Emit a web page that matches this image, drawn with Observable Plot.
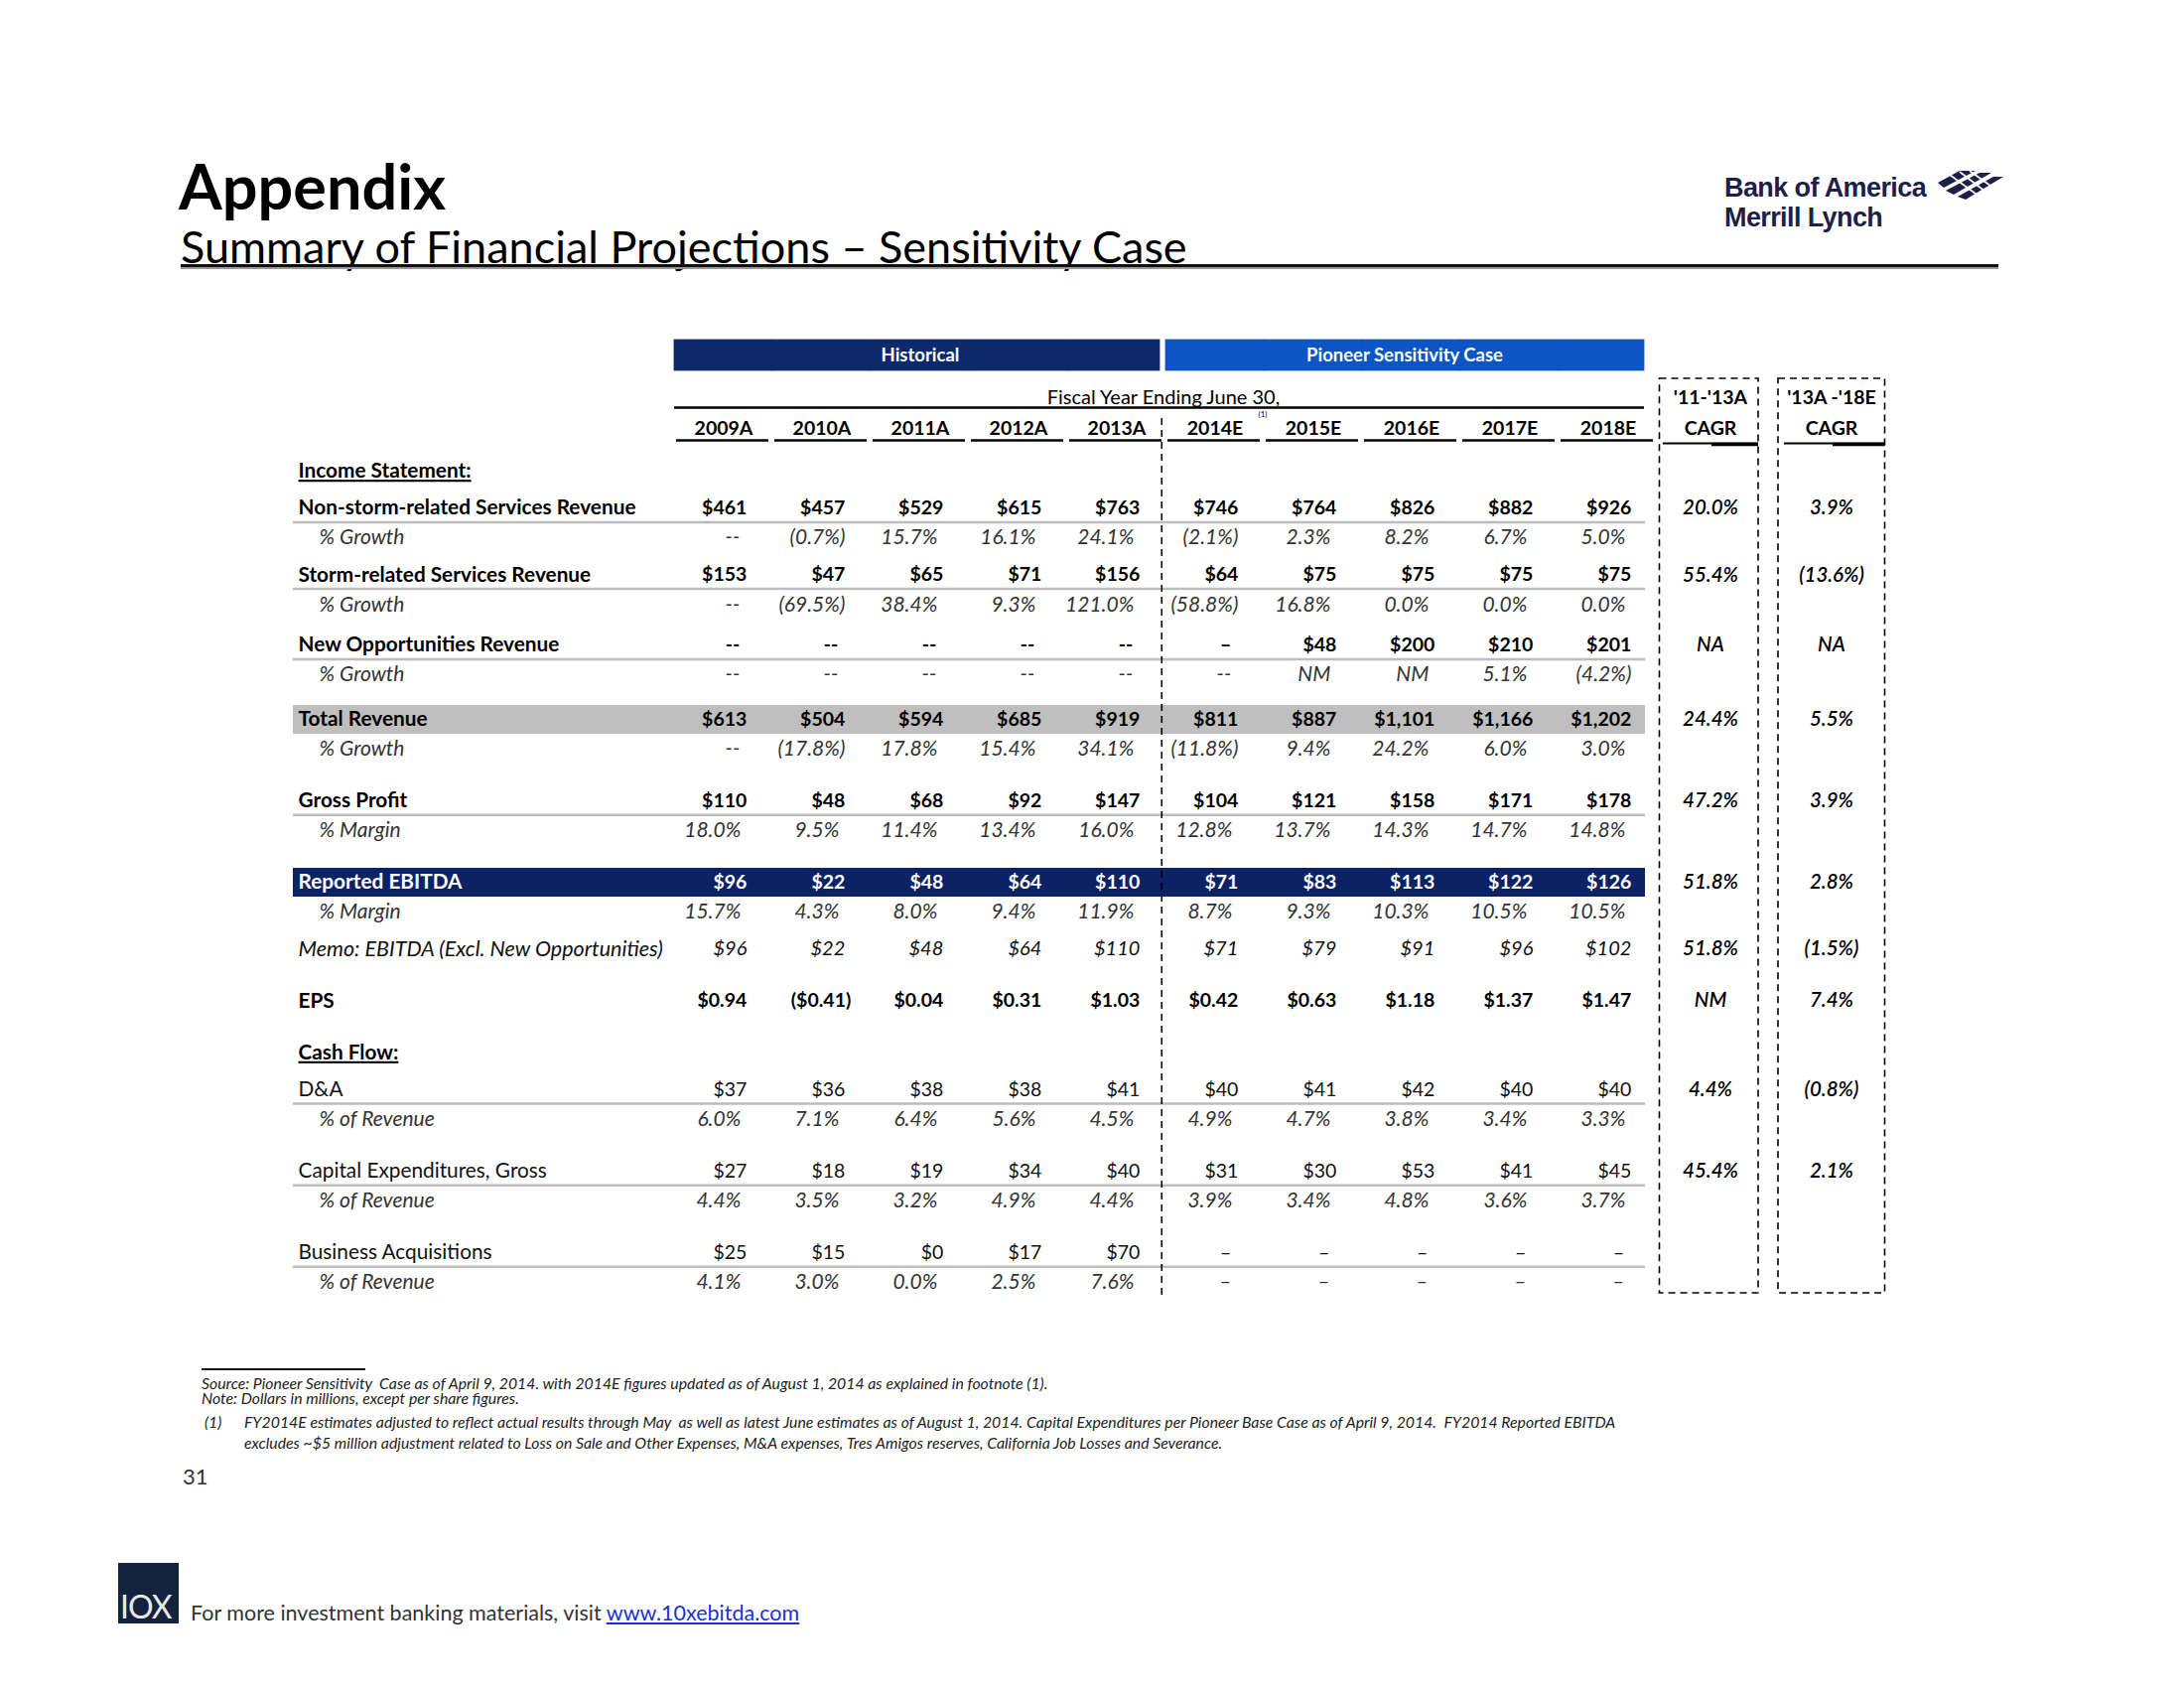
<!DOCTYPE html>
<html><head><meta charset="utf-8">
<script src="https://cdn.jsdelivr.net/npm/d3@7"></script>
<script src="https://cdn.jsdelivr.net/npm/@observablehq/plot@0.6"></script>
<style>
body{margin:0;background:#fff;}
#page{position:relative;width:2200px;height:1700px;font-family:Lato,'Open Sans',sans-serif;color:#000;overflow:hidden;background:#fff}
.abs{position:absolute;white-space:nowrap;line-height:1}
#chart{position:absolute;left:0;top:300px}
.fn{position:absolute;white-space:nowrap;font-style:italic;font-size:15.8px;color:#222;line-height:1}
</style></head><body><div id="page">
<div class="abs" style="left:180px;top:155px;font-size:63px;font-weight:bold;">Appendix</div>
<div class="abs" style="left:182px;top:226px;font-size:45px;">Summary of Financial Projections – Sensitivity Case</div>
<div class="abs" style="left:182px;top:266px;width:1831px;height:3px;background:#111"></div>
<div class="abs" style="left:182px;top:269px;width:1831px;height:2px;background:#999"></div>
<div class="abs" style="left:1737px;top:176px;font-family:'Liberation Sans',Arial,sans-serif;font-weight:bold;font-size:27px;color:#1c1f4a;letter-spacing:-0.6px">Bank of America</div>
<div class="abs" style="left:1737px;top:206px;font-family:'Liberation Sans',Arial,sans-serif;font-weight:bold;font-size:27px;color:#1c1f4a;letter-spacing:-0.6px">Merrill Lynch</div>
<svg class="abs" style="left:1950px;top:170px" width="70" height="32" viewBox="0 0 70 32">
<g fill="#1c1f4a"><polygon points="2,14 24,2 40,2 8,19"/><polygon points="10,22 44,4 56,4 18,26"/><polygon points="22,28 58,8 68,8 30,31"/></g>
<g stroke="#fff" stroke-width="1.6"><line x1="14" y1="6" x2="44" y2="28"/><line x1="24" y1="3" x2="54" y2="26"/><line x1="34" y1="2" x2="62" y2="22"/></g>
</svg>
<div id="chart"></div>
<div class="abs" style="left:203px;top:1378px;width:165px;height:2px;background:#111"></div>
<div class="fn" style="left:203px;top:1385px">Source: Pioneer Sensitivity&nbsp; Case as of April 9, 2014. with 2014E figures updated as of August 1, 2014 as explained in footnote (1).</div>
<div class="fn" style="left:203px;top:1400px">Note: Dollars in millions, except per share figures.</div>
<div class="fn" style="left:206px;top:1424px">(1)</div>
<div class="fn" style="left:246px;top:1424px">FY2014E estimates adjusted to reflect actual results through May&nbsp; as well as latest June estimates as of August 1, 2014. Capital Expenditures per Pioneer Base Case as of April 9, 2014.&nbsp; FY2014 Reported EBITDA</div>
<div class="fn" style="left:246px;top:1445px">excludes ~$5 million adjustment related to Loss on Sale and Other Expenses, M&amp;A expenses, Tres Amigos reserves, California Job Losses and Severance.</div>
<div class="abs" style="left:184px;top:1476px;font-size:22px;color:#333">31</div>
<div class="abs" style="left:119px;top:1574px;width:61px;height:61px;background:#13233f"></div>
<div class="abs" style="left:121px;top:1602px;font-size:32px;color:#e8e8e8;letter-spacing:-1px">IOX</div>
<div class="abs" style="left:192px;top:1614px;font-size:21.5px;color:#333">For more investment banking materials, visit <span style="color:#1a32d6;text-decoration:underline">www.10xebitda.com</span></div>
</div>
<script>
// ---------------- data ----------------
const years = ["2009A","2010A","2011A","2012A","2013A","2014E","2015E","2016E","2017E","2018E"];
const historicalYears = years.slice(0, 5);
const projectedYears = years.slice(5);
const bannerLabels = ["Historical", "Pioneer Sensitivity Case"];
const fiscalLabel = "Fiscal Year Ending June 30,";
const cagrKeys = ["c1113", "c1318"];
const cagrHeaders = ["'11-'13A", "'13A -'18E"];

const rowKeys = ["incomeHdr","nonStorm","nonStormG","storm","stormG","newOpp","newOppG","total","totalG","gross","grossM","ebitda","ebitdaM","memo","eps","cashHdr","da","daPct","capex","capexPct","acq","acqPct"];
const rowLabels = ["Income Statement:","Non-storm-related Services Revenue","% Growth","Storm-related Services Revenue","% Growth","New Opportunities Revenue","% Growth","Total Revenue","% Growth","Gross Profit","% Margin","Reported EBITDA","% Margin","Memo: EBITDA (Excl. New Opportunities)","EPS","Cash Flow:","D&A","% of Revenue","Capital Expenditures, Gross","% of Revenue","Business Acquisitions","% of Revenue"];

const nonStormRevenue = [461,457,529,615,763,746,764,826,882,926];
const nonStormGrowth  = [null,-0.7,15.7,16.1,24.1,-2.1,2.3,8.2,6.7,5.0];
const stormRevenue    = [153,47,65,71,156,64,75,75,75,75];
const stormGrowth     = [null,-69.5,38.4,9.3,121.0,-58.8,16.8,0.0,0.0,0.0];
const newOppRevenue   = [null,null,null,null,null,"–",48,200,210,201];
const newOppGrowth    = [null,null,null,null,null,null,"NM","NM",5.1,-4.2];
const totalRevenue    = [613,504,594,685,919,811,887,1101,1166,1202];
const totalGrowth     = [null,-17.8,17.8,15.4,34.1,-11.8,9.4,24.2,6.0,3.0];
const grossProfit     = [110,48,68,92,147,104,121,158,171,178];
const grossMargin     = [18.0,9.5,11.4,13.4,16.0,12.8,13.7,14.3,14.7,14.8];
const reportedEbitda  = [96,22,48,64,110,71,83,113,122,126];
const ebitdaMargin    = [15.7,4.3,8.0,9.4,11.9,8.7,9.3,10.3,10.5,10.5];
const memoEbitda      = [96,22,48,64,110,71,79,91,96,102];
const eps             = [0.94,-0.41,0.04,0.31,1.03,0.42,0.63,1.18,1.37,1.47];
const depreciation    = [37,36,38,38,41,40,41,42,40,40];
const depreciationPct = [6.0,7.1,6.4,5.6,4.5,4.9,4.7,3.8,3.4,3.3];
const capex           = [27,18,19,34,40,31,30,53,41,45];
const capexPct        = [4.4,3.5,3.2,4.9,4.4,3.9,3.4,4.8,3.6,3.7];
const acquisitions    = [25,15,0,17,70,"–","–","–","–","–"];
const acquisitionsPct = [4.1,3.0,0.0,2.5,7.6,"–","–","–","–","–"];

const cagrRows = ["nonStorm","storm","newOpp","total","gross","ebitda","memo","eps","da","capex"];
const cagr1113 = [20.0,55.4,"NA",24.4,47.2,51.8,51.8,"NM",4.4,45.4];
const cagr1318 = [3.9,-13.6,"NA",5.5,3.9,2.8,-1.5,7.4,-0.8,2.1];

// ---------------- layout (scales / styling) ----------------
const FONT = "Lato, 'Open Sans', sans-serif";
const U = 7.46;                    // px per row unit
const rowGapUnits = [0,5,4,5,4,5.5,4,6,4,7,4,7,4,5,7,7,5,4,7,4,7,4];
const rowPos = {}; { let acc = 0; rowKeys.forEach((k, i) => { acc += rowGapUnits[i]; rowPos[k] = acc; }); }
const H = {barTop: -17.69, barBot: -13.54, barText: -15.6, fiscal: -9.92, fiscalRule: -8.58, years: -5.76, yearRule: -4.16,
           boxTop: -12.47, boxBot: 111.0, divTop: -7.1, divBot: 111.4, note: -7.6, cagrRule: -3.75};
const X0 = 675.7, BW = 99.47;
const VAL_DX = BW / 2 - 26.4;
const sepRows = ["nonStorm","storm","newOpp","gross","da","capex","acq"];
const sectionLabels = ["Income Statement:", "Cash Flow:"];

const rowValues = {nonStorm: nonStormRevenue, nonStormG: nonStormGrowth, storm: stormRevenue, stormG: stormGrowth,
  newOpp: newOppRevenue, newOppG: newOppGrowth, total: totalRevenue, totalG: totalGrowth, gross: grossProfit,
  grossM: grossMargin, ebitda: reportedEbitda, ebitdaM: ebitdaMargin, memo: memoEbitda, eps: eps, da: depreciation,
  daPct: depreciationPct, capex: capex, capexPct: capexPct, acq: acquisitions, acqPct: acquisitionsPct};
const rowFormat = k => k === "eps" ? "eps" : /(G|M|Pct)$/.test(k) ? "pct" : "money";
const rowStyleMap = {incomeHdr:"section", cashHdr:"section", nonStorm:"bold", storm:"bold", newOpp:"bold", total:"bold",
  gross:"bold", eps:"bold", ebitda:"inverse", memo:"memo", da:"plain", capex:"plain", acq:"plain"};
const styleOf = k => rowStyleMap[k] || "pct";
const styleOpts = {
  section: {fontWeight: "bold", fill: "#000", fontSize: 20.8},
  bold: {fontWeight: "bold", fill: "#000", fontSize: 20.8},
  inverse: {fontWeight: "bold", fill: "#fff", fontSize: 20.8},
  pct: {fontStyle: "italic", fill: "#333", fontSize: 21},
  memo: {fontStyle: "italic", fill: "#111", fontSize: 21.5},
  plain: {fill: "#111", fontSize: 20.8}
};
const valueSize = {section: 19.5, bold: 19.5, inverse: 19.5, pct: 21, memo: 20, plain: 19.5};
const clsOffset = {money: 0, parenMoney: 6, pct: -6, parenPct: 0, dash: -7, nm: -6};

function fmt(v, kind) {
  if (v === null) return {text: "--", cls: "dash"};
  if (typeof v === "string") return {text: v, cls: v === "NM" ? "nm" : "dash"};
  if (kind === "money") return v < 0 ? {text: "($" + d3.format(",")(-v) + ")", cls: "parenMoney"} : {text: "$" + d3.format(",")(v), cls: "money"};
  if (kind === "eps") return v < 0 ? {text: "($" + (-v).toFixed(2) + ")", cls: "parenMoney"} : {text: "$" + v.toFixed(2), cls: "money"};
  return v < 0 ? {text: "(" + (-v).toFixed(1) + "%)", cls: "parenPct"} : {text: v.toFixed(1) + "%", cls: "pct"};
}
const fmtCagr = v => typeof v === "string" ? v : v < 0 ? "(" + (-v).toFixed(1) + "%)" : v.toFixed(1) + "%";

const cells = Object.entries(rowValues).flatMap(([k, vals]) => vals.map((v, i) => ({row: k, col: years[i], ...fmt(v, rowFormat(k))})));
const cagrCells = cagrRows.flatMap((k, i) => [
  {row: k, col: cagrKeys[0], text: fmtCagr(cagr1113[i])},
  {row: k, col: cagrKeys[1], text: fmtCagr(cagr1318[i])}
]);

const yOf = k => rowPos[k];
const base = {fontFamily: FONT, fontSize: 19.5};
const marks = [];

// highlighted row bands
marks.push(Plot.ruleY(["total"], {y: yOf, stroke: "#bfbfbf", strokeWidth: 29}));
marks.push(Plot.ruleY(["ebitda"], {y: yOf, stroke: "#0b2265", strokeWidth: 29}));
// separators
marks.push(Plot.ruleY(sepRows, {y: k => rowPos[k] + 1.9, stroke: "#bdbdbd", strokeWidth: 2.5}));

// banners
const bar = (cols, fill, opts = {}) => Plot.barY(cols, {x: d => d, y1: () => H.barTop, y2: () => H.barBot, fill, stroke: fill, strokeWidth: 0.8, ...opts});
marks.push(bar(historicalYears.slice(0, 4), "#0c2a6b"));
marks.push(bar(historicalYears.slice(4), "#0c2a6b", {insetRight: 6}));
marks.push(bar(projectedYears.slice(0, 4), "#0b55c4"));
marks.push(bar(projectedYears.slice(4), "#0b55c4", {insetRight: 13}));
marks.push(Plot.text([bannerLabels[0]], {x: () => "2011A", y: () => H.barText, text: d => d, fill: "#fff", fontWeight: "bold", fontFamily: FONT, fontSize: 18.5}));
marks.push(Plot.text([bannerLabels[1]], {x: () => "2016E", y: () => H.barText, text: d => d, dx: -7, fill: "#fff", fontWeight: "bold", fontFamily: FONT, fontSize: 18.5}));

// fiscal year label + rule
marks.push(Plot.text([fiscalLabel], {x: () => "2013A", y: () => H.fiscal, text: d => d, dx: 47, ...base, fontSize: 20}));
marks.push(Plot.tickY(years.slice(0, 9), {x: d => d, y: () => H.fiscalRule, strokeWidth: 2.5, stroke: "#000"}));
marks.push(Plot.tickY(years.slice(9), {x: d => d, y: () => H.fiscalRule, strokeWidth: 2.5, stroke: "#000", insetRight: 13}));
// year headers
marks.push(Plot.text(years, {x: d => d, y: () => H.years, text: d => d, fontWeight: "bold", ...base}));
marks.push(Plot.text(["(1)"], {x: () => "2014E", y: () => H.note, text: d => d, dx: 48, fontFamily: FONT, fontSize: 8}));
marks.push(Plot.tickY(years, {x: d => d, y: () => H.yearRule, strokeWidth: 2.5, stroke: "#000", insetLeft: 2, insetRight: 4}));

// vertical dashed divider
marks.push(Plot.ruleX(["2014E"], {x: d => d, y1: () => H.divTop, y2: () => H.divBot, dx: -BW / 2 - 4, stroke: "#000", strokeWidth: 1.6, strokeDasharray: "7,5"}));

// CAGR boxes and headers
const cagrShift = [0, 23];
cagrKeys.forEach((c, i) => {
  marks.push(Plot.barY([c], {x: d => d, y1: () => H.boxTop, y2: () => H.boxBot, fill: "none", stroke: "#000", strokeWidth: 1.6, strokeDasharray: "7,5",
    dx: cagrShift[i], insetLeft: i ? 0 : 2.5, insetRight: i ? -8.5 : -3}));
  marks.push(Plot.text([cagrHeaders[i]], {x: () => c, y: () => H.fiscal, text: d => d, dx: cagrShift[i] + 4, fontWeight: "bold", ...base}));
  marks.push(Plot.text(["CAGR"], {x: () => c, y: () => H.years, text: d => d, dx: cagrShift[i] + 4, fontWeight: "bold", ...base}));
  marks.push(Plot.tickY([c], {x: d => d, y: () => H.cagrRule, dx: cagrShift[i], stroke: "#000", strokeWidth: 2, insetLeft: 6, insetRight: i ? -8.5 : -3}));
  marks.push(Plot.tickY([c], {x: d => d, y: () => H.cagrRule, dx: cagrShift[i], dy: 1, stroke: "#000", strokeWidth: 3.5, insetLeft: 55, insetRight: i ? -8.5 : -3}));
  marks.push(Plot.text(cagrCells.filter(d => d.col === c), {x: "col", y: d => rowPos[d.row], text: "text", dx: cagrShift[i] + 4,
    fontStyle: "italic", fontWeight: 600, fill: "#000", ...base, fontSize: 20.5}));
});

// row labels
Object.keys(styleOpts).forEach(s => {
  const keys = rowKeys.filter(k => styleOf(k) === s);
  if (!keys.length) return;
  marks.push(Plot.text(keys, {y: yOf, text: k => rowLabels[rowKeys.indexOf(k)], frameAnchor: "left", textAnchor: "start",
    dx: s === "pct" ? 26 : 5, ...base, ...styleOpts[s]}));
});

// table values
Object.keys(styleOpts).forEach(s => {
  Object.keys(clsOffset).forEach(c => {
    const sub = cells.filter(d => styleOf(d.row) === s && d.cls === c);
    if (!sub.length) return;
    marks.push(Plot.text(sub, {x: "col", y: d => rowPos[d.row], text: "text", textAnchor: "end", dx: VAL_DX + clsOffset[c],
      ...base, ...styleOpts[s], fontSize: valueSize[s]}));
  });
});

const chart = Plot.plot({
  width: 2200, height: 1030,
  marginLeft: 295, marginRight: 543, marginTop: 0, marginBottom: 0,
  x: {type: "band", domain: [...years, ...cagrKeys], range: [X0, X0 + BW * 12], padding: 0, axis: null},
  y: {type: "linear", domain: [0, 109.5], range: [174, 174 + 109.5 * U], axis: null},
  style: {background: "transparent", overflow: "visible", fontFamily: FONT},
  marks
});
d3.select(chart).selectAll("text")
  .filter(function () { return sectionLabels.includes(this.textContent); })
  .style("text-decoration", "underline");
document.getElementById("chart").appendChild(chart);
</script>
</body></html>
